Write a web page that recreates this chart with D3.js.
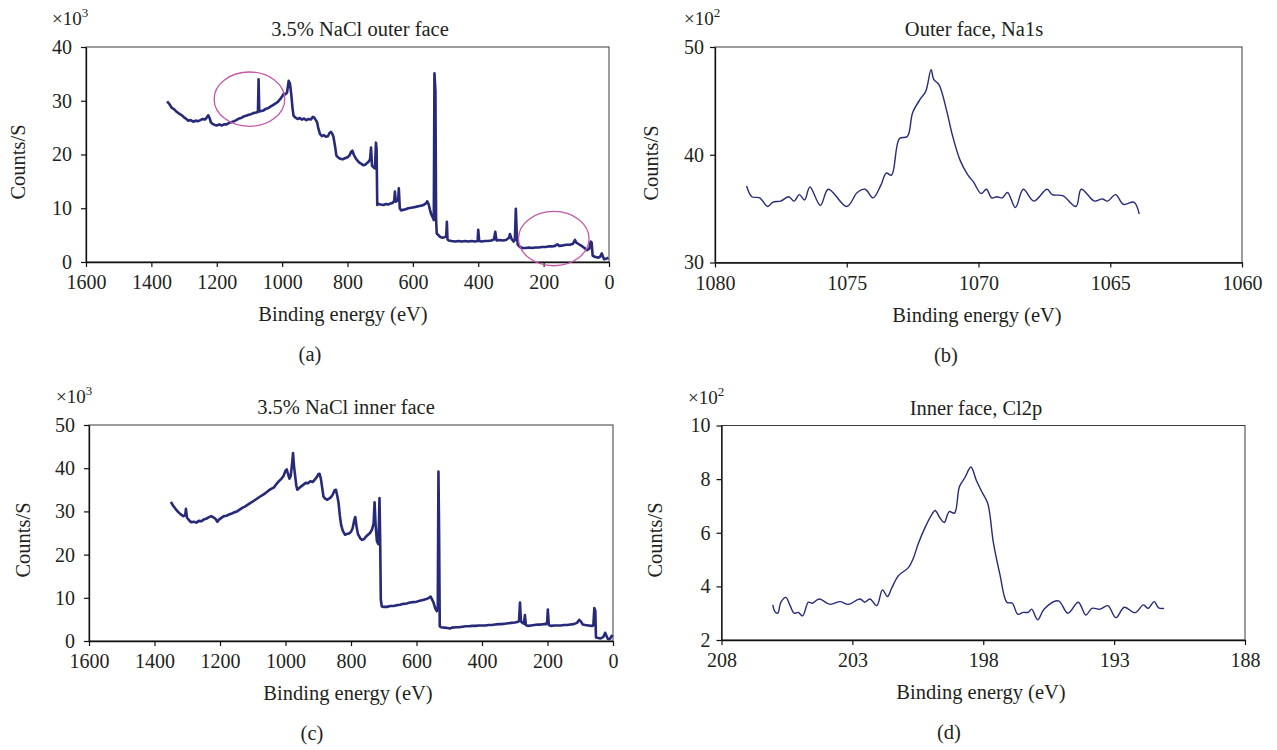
<!DOCTYPE html>
<html lang="en">
<head>
<meta charset="UTF-8">
<title>XPS spectra, 3.5% NaCl</title>
<style>
  body { margin: 0; background: #fff; }
  svg text { font-family: "Liberation Serif", "DejaVu Serif", serif; fill: #231f20; }
</style>
</head>
<body>
<svg id="chart" width="1277" height="750"></svg>

<script src="https://cdnjs.cloudflare.com/ajax/libs/d3/7.8.5/d3.min.js"></script>
<script>
// ---- data (energy in eV, counts in x10^n) ----

// (a) survey, outer face, x10^3
var outerSurveyEnergy = [1352,1345,1338,1330,1322,1315,1307,1300,1293,1287,1280,1272,1265,1258,1250,1243,1236,1230,1226,1222,
  1218,1213,1206,1200,1192,1185,1178,1170,1162,1155,1147,1140,1132,1125,1117,1110,1102,1095,1088,1080,
  1074,1072,1070,1064,1057,1050,1043,1036,1028,1020,1013,1006,1000,995,990,985,980,976,972,968,
  965,960,953,946,940,933,926,919,912,906,902,897,893,889,884,878,872,866,860,855,
  851,847,843,838,834,828,822,815,808,800,794,789,785,781,776,770,764,758,752,746,
  740,735,731,728,725,720,716,713,711,709,705,698,690,682,675,668,662,657,655,652,
  648,645,643,640,636,630,622,614,605,596,588,580,572,565,560,556,552,548,544,540,
  536,534,531,529,527,522,517,510,503,498,496,494,490,482,470,460,450,440,430,420,
  410,402,400,397,390,380,370,360,352,348,344,335,325,315,306,303,298,292,288,285,
  282,279,272,265,255,245,235,225,215,205,195,185,175,165,158,152,140,130,120,110,
  104,100,92,84,75,68,60,56,53,50,45,38,32,27,22,18,15,10,5,2];
var outerSurveyCounts = [29.9,29.4,28.7,28.4,27.9,27.6,27.3,26.9,26.6,26.3,26.4,26.1,26.3,26.2,26.4,26.6,26.5,26.9,27.3,26.8,
  26.0,25.7,25.5,25.4,25.6,25.4,25.6,25.6,25.9,26.0,26.2,26.4,26.7,26.8,27.1,27.2,27.4,27.5,27.7,27.8,
  27.9,34.0,28.0,28.1,28.2,28.5,28.6,28.9,29.2,29.5,29.8,30.3,30.8,31.3,31.2,31.5,33.7,33.2,31.2,28.5,
  27.2,26.9,26.6,26.8,26.5,26.7,26.4,26.6,26.5,27.0,26.9,26.4,26.0,24.8,23.8,23.4,23.6,23.3,23.4,24.0,
  24.2,23.9,23.3,21.5,19.8,19.4,19.2,19.1,19.3,19.5,19.8,20.5,20.7,20.0,19.4,18.9,18.5,18.3,18.0,18.1,
  18.4,18.7,19.1,21.3,17.9,17.6,17.4,22.2,21.0,10.6,10.8,10.7,10.6,10.8,10.7,10.9,11.0,11.4,13.1,11.2,
  11.5,11.4,13.7,10.0,9.6,9.7,9.8,10.0,10.1,10.2,10.3,10.4,10.5,10.7,10.9,11.3,10.8,9.8,8.9,8.4,
  7.8,35.1,31.8,8.0,5.3,5.0,4.7,4.5,4.6,4.8,7.5,4.2,4.0,3.9,3.8,3.9,3.8,3.9,3.8,3.9,
  3.8,3.9,6.0,3.9,3.8,3.9,3.9,4.0,4.2,5.6,4.0,4.1,4.0,4.1,4.5,5.2,4.3,3.8,4.1,9.9,
  5.0,3.2,2.8,2.6,2.6,2.7,2.6,2.7,2.7,2.8,2.8,2.9,2.9,3.0,3.3,3.0,3.1,3.2,3.2,3.4,
  4.1,3.6,3.3,3.0,2.6,2.2,2.5,3.8,3.6,1.2,1.0,0.9,0.8,1.0,1.6,0.9,0.5,0.6,0.7,0.8];

// circled regions on (a)
var circleEnergy = [1100, 169];
var circleCounts = [30.3, 4.35];

// (b) Na1s, outer face, x10^2
var na1sEnergy = [1078.8,1078.6,1078.3,1078.0,1077.8,1077.5,1077.2,1077.0,1076.8,1076.6,1076.4,1076.0,1075.7,1075.0,1074.6,1074.3,
  1074.0,1073.7,1073.5,1073.3,1073.0,1072.7,1072.5,1072.2,1072.0,1071.8,1071.7,1071.5,1071.2,1071.0,1070.7,1070.4,
  1070.2,1069.9,1069.7,1069.5,1069.3,1069.1,1068.9,1068.6,1068.3,1067.9,1067.4,1067.2,1066.8,1066.3,1066.1,1065.6,
  1065.3,1065.1,1064.8,1064.5,1064.1,1063.9];
var na1sCounts = [37.1,36.1,36.0,35.2,35.6,35.7,36.1,35.7,36.3,35.8,37.0,35.3,36.8,35.2,36.5,36.8,
  36.0,37.2,38.3,38.1,41.5,41.7,43.9,45.2,45.9,47.9,47.0,46.5,44.0,41.9,39.5,38.1,
  37.5,36.4,36.8,36.0,36.1,36.0,36.5,35.1,36.8,35.7,36.8,36.3,36.2,35.2,36.8,35.7,
  35.9,35.7,36.3,35.4,35.6,34.5];

// (c) survey, inner face, x10^3
var innerSurveyEnergy = [1350,1343,1336,1328,1320,1312,1306,1304,1301,1295,1288,1280,1272,1265,1257,1250,1242,1235,1227,1220,
  1214,1208,1203,1196,1188,1180,1172,1164,1156,1148,1140,1132,1124,1116,1108,1100,1092,1084,1076,1068,
  1060,1052,1044,1036,1028,1020,1012,1006,1000,996,992,988,984,980,977,974,971,967,964,958,
  952,945,938,931,924,917,910,904,900,896,892,888,884,878,872,866,860,855,850,846,
  842,838,834,830,825,818,812,806,800,795,790,787,783,779,772,766,760,754,748,742,
  736,731,728,725,721,718,716,713,711,709,706,700,690,680,670,660,650,640,630,620,
  610,600,590,580,570,562,557,553,548,543,538,535,533,531,529,525,515,505,498,490,
  480,470,460,450,440,430,420,410,400,390,380,370,360,350,340,330,320,310,300,292,
  287,284,281,276,272,269,266,260,250,240,230,220,210,204,201,199,196,190,180,170,
  160,150,140,130,120,110,103,98,92,85,75,65,60,57,54,52,45,38,33,29,
  24,20,16,12,8,4,1];
var innerSurveyCounts = [32.2,31.3,30.6,29.9,29.3,28.9,29.2,30.6,28.6,28.0,27.5,27.6,27.4,27.8,27.7,28.1,28.3,28.6,28.9,28.6,
  28.3,27.6,28.1,28.5,28.9,29.0,29.3,29.5,29.8,30.0,30.4,30.8,31.1,31.5,31.9,32.3,32.7,33.1,33.5,33.9,
  34.3,34.8,35.2,35.5,36.3,37.0,37.6,38.2,39.4,39.7,38.6,37.6,38.2,41.0,43.5,40.5,38.5,36.0,35.0,35.4,
  35.8,36.2,36.6,36.5,37.0,36.8,37.4,38.0,38.6,38.7,37.6,35.5,33.4,32.9,32.7,33.0,33.4,34.0,34.9,35.0,
  33.6,32.0,29.0,26.8,25.5,24.6,24.8,24.9,25.3,26.1,28.0,28.7,26.5,24.8,23.8,23.4,23.6,24.2,24.6,25.0,
  25.8,27.2,32.1,27.0,23.2,22.6,22.4,33.1,24.0,9.6,8.0,7.9,7.9,8.1,8.1,8.3,8.4,8.6,8.7,8.9,
  9.0,9.1,9.3,9.5,9.7,10.0,10.3,9.7,8.9,7.6,6.9,8.0,39.2,25.0,3.4,3.2,3.1,3.0,2.9,3.1,
  3.2,3.2,3.3,3.4,3.4,3.5,3.5,3.6,3.6,3.6,3.7,3.7,3.8,3.9,3.9,4.0,4.1,4.2,4.3,4.4,
  4.6,8.9,4.5,4.2,4.0,6.0,3.7,3.5,3.6,3.7,3.8,3.8,3.9,3.9,4.5,7.3,3.7,3.5,3.6,3.6,
  3.6,3.7,3.7,3.8,3.9,4.2,4.9,4.5,3.8,3.7,3.6,3.5,3.6,7.6,7.0,0.8,0.7,0.6,0.8,1.0,
  1.9,1.2,0.5,0.4,0.6,1.2,0.9];

// (d) Cl2p, inner face, x10^2
var cl2pEnergy = [206.04,205.96,205.85,205.73,205.54,205.38,205.22,205.07,204.9,204.68,204.53,204.27,203.85,203.47,203.15,202.71,
  202.52,202.33,202.07,201.85,201.66,201.5,201.24,200.86,200.67,200.48,200.22,199.95,199.84,199.65,199.49,199.3,
  199.1,198.91,198.7,198.47,198.27,198.06,197.83,197.61,197.36,197.1,196.89,196.68,196.47,196.28,196.15,195.92,
  195.67,195.13,194.77,194.37,194.08,193.85,193.54,193.24,192.93,192.61,192.2,191.88,191.7,191.47,191.3,191.09];
var cl2pCounts = [3.31,3.06,3.0,3.41,3.59,3.28,3.0,3.03,2.9,3.41,3.37,3.53,3.33,3.43,3.33,3.53,
  3.41,3.53,3.28,3.87,3.62,3.93,4.4,4.7,5.05,5.6,6.2,6.7,6.83,6.55,6.38,6.79,
  6.73,7.72,8.06,8.45,7.97,7.54,7.1,5.61,4.43,3.41,3.37,2.96,3.03,3.03,3.15,2.75,
  3.16,3.46,3.0,3.41,2.93,3.18,3.15,3.28,2.83,3.22,3.02,3.31,3.18,3.43,3.2,3.18];

// ticks
var surveyTicks = [1600,1400,1200,1000,800,600,400,200,0];
var na1sTicks = [1080,1075,1070,1065,1060];
var cl2pTicks = [208,203,198,193,188];
var outerCountTicks = [0,10,20,30,40];
var na1sCountTicks = [30,40,50];
var innerCountTicks = [0,10,20,30,40,50];
var cl2pCountTicks = [2,4,6,8,10];

var titles = ['3.5% NaCl outer face', 'Outer face, Na1s', '3.5% NaCl inner face', 'Inner face, Cl2p'];
var exponents = ['3', '2', '3', '2'];
var subLabels = ['(a)', '(b)', '(c)', '(d)'];

// ---- layout ----
var LINE_COLOR = '#262a78';
var CIRCLE_COLOR = '#c457a8';
var FONT = '20.5px';
var TICK_FONT = '20px';

var panels = [
  { box: [86, 47, 609, 262], energy: outerSurveyEnergy, counts: outerSurveyCounts, xTicks: surveyTicks, yTicks: outerCountTicks,
    smooth: false, titleX: 360, labelX: 343, yLabel: [18, 162], expX: 52, subX: 310, tickPad: 9 },
  { box: [715, 47, 1242, 262.5], energy: na1sEnergy, counts: na1sCounts, xTicks: na1sTicks, yTicks: na1sCountTicks,
    smooth: true, titleX: 974, labelX: 977, yLabel: [651, 163], expX: 684, subX: 946, tickPad: 6 },
  { box: [89, 425, 613, 641], energy: innerSurveyEnergy, counts: innerSurveyCounts, xTicks: surveyTicks, yTicks: innerCountTicks,
    smooth: false, titleX: 346, labelX: 348, yLabel: [23, 540], expX: 56, subX: 312, tickPad: 9 },
  { box: [721.5, 425.5, 1245, 640], energy: cl2pEnergy, counts: cl2pCounts, xTicks: cl2pTicks, yTicks: cl2pCountTicks,
    smooth: true, titleX: 976, labelX: 981, yLabel: [655, 540], expX: 688, subX: 949, tickPad: 6 }
];

var svg = d3.select('#chart');

panels.forEach(function (p, i) {
  var x0 = p.box[0], y0 = p.box[1], x1 = p.box[2], y1 = p.box[3];
  var xs = p.xTicks, ys = p.yTicks;

  var x = d3.scaleLinear().domain([xs[0], xs[xs.length - 1]]).range([x0, x1]);
  var y = d3.scaleLinear().domain([ys[0], ys[ys.length - 1]]).range([y1, y0]);

  var g = svg.append('g').attr('class', 'panel');

  // frame
  g.append('rect')
    .attr('x', x0).attr('y', y0)
    .attr('width', x1 - x0).attr('height', y1 - y0)
    .attr('fill', 'none')
    .attr('stroke', '#3a3a3a')
    .attr('stroke-width', 1);

  var xAxis = g.append('g')
    .attr('transform', 'translate(0,' + y1 + ')')
    .call(d3.axisBottom(x).tickValues(xs).tickSize(5).tickSizeOuter(0).tickPadding(8).tickFormat(d3.format('d')));
  var yAxis = g.append('g')
    .attr('transform', 'translate(' + x0 + ',0)')
    .call(d3.axisLeft(y).tickValues(ys).tickSize(5).tickSizeOuter(0).tickPadding(p.tickPad).tickFormat(d3.format('d')));

  [xAxis, yAxis].forEach(function (ax) {
    ax.attr('font-family', null).attr('font-size', null);
    ax.select('.domain').attr('stroke', '#111').attr('stroke-width', 1.3);
    ax.selectAll('.tick line').attr('stroke', '#111').attr('stroke-width', 1.2);
    ax.selectAll('.tick text').style('font-size', TICK_FONT).attr('fill', '#231f20');
  });

  // spectrum
  var pts = p.energy.map(function (e, k) { return [e, p.counts[k]]; });
  var line = d3.line()
    .x(function (d) { return x(d[0]); })
    .y(function (d) { return y(d[1]); })
    .curve(p.smooth ? d3.curveCatmullRom.alpha(0.5) : d3.curveLinear);

  g.append('path')
    .datum(pts)
    .attr('d', line)
    .attr('fill', 'none')
    .attr('stroke', LINE_COLOR)
    .attr('stroke-width', p.smooth ? 1.4 : 2.6)
    .attr('stroke-linejoin', 'round');

  // circles only on (a)
  if (i === 0) {
    g.selectAll('ellipse')
      .data(circleEnergy)
      .enter()
      .append('ellipse')
      .attr('cx', function (d) { return x(d); })
      .attr('cy', function (d, k) { return y(circleCounts[k]); })
      .attr('rx', Math.abs(x(108) - x(0)))
      .attr('ry', Math.abs(y(5.05) - y(0)))
      .attr('fill', 'none')
      .attr('stroke', CIRCLE_COLOR)
      .attr('stroke-width', 1.3);
  }

  // texts
  g.append('text')
    .attr('x', p.titleX).attr('y', y0 - 11)
    .attr('text-anchor', 'middle')
    .style('font-size', FONT)
    .text(titles[i]);

  g.append('text')
    .attr('x', p.labelX).attr('y', y1 + 59)
    .attr('text-anchor', 'middle')
    .style('font-size', FONT)
    .text('Binding energy (eV)');

  g.append('text')
    .attr('transform', 'translate(' + p.yLabel[0] + ',' + p.yLabel[1] + ') rotate(-90)')
    .attr('text-anchor', 'middle')
    .attr('dy', '0.35em')
    .style('font-size', FONT)
    .text('Counts/S');

  var mult = g.append('text')
    .attr('x', p.expX).attr('y', y0 - 22)
    .style('font-size', '19px');
  mult.append('tspan').text('\u00d710');
  mult.append('tspan').attr('dy', -8).style('font-size', '13px').text(exponents[i]);

  g.append('text')
    .attr('x', p.subX).attr('y', y1 + 99)
    .attr('text-anchor', 'middle')
    .style('font-size', FONT)
    .text(subLabels[i]);
});
</script>
</body>
</html>
